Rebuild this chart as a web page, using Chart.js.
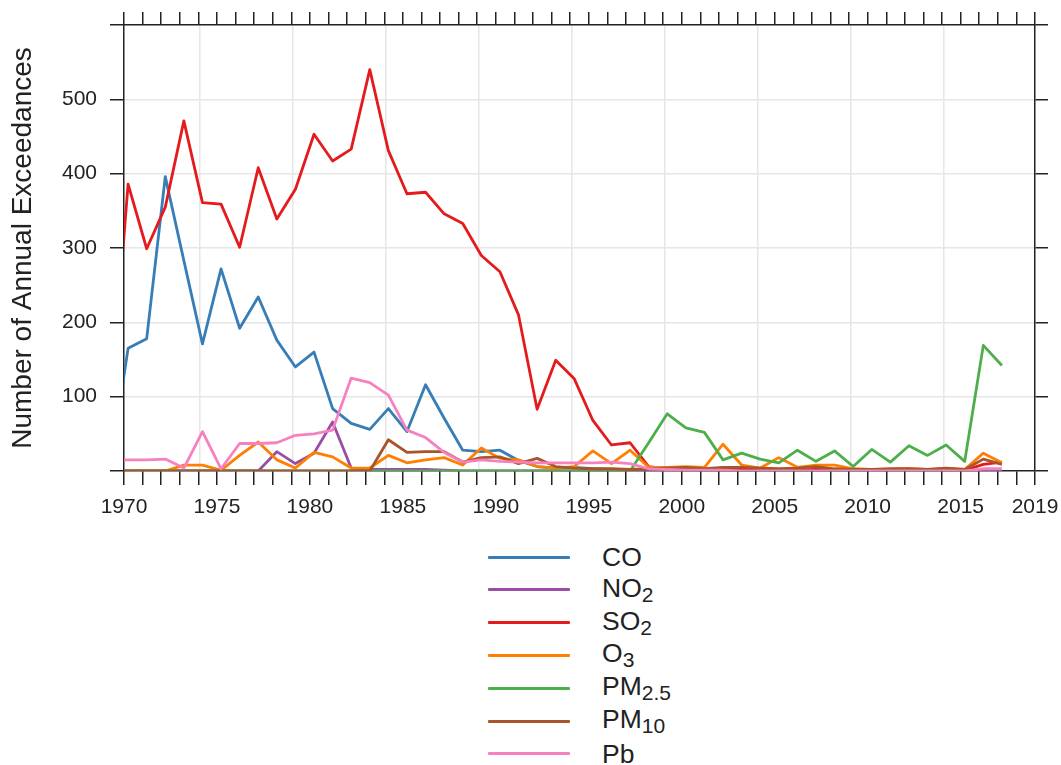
<!DOCTYPE html>
<html>
<head>
<meta charset="utf-8">
<script src="https://cdn.jsdelivr.net/npm/chart.js@4.4.1/dist/chart.umd.min.js"></script>
<style>
  html, body { margin: 0; padding: 0; background: #fff; }
  #wrap { position: relative; width: 1061px; height: 765px; overflow: hidden; }
  #chart { position: absolute; left: 0; top: 0; }
  .lg-row { position: absolute; left: 0; height: 34px; display: flex; align-items: center;
            font-family: "Liberation Sans", Arial, sans-serif; font-size: 26.5px; line-height: 1; color: #222; }
  .lg-line { width: 82px; height: 3px; margin-left: 488px; border-radius: 1px; }
  .lg-text { margin-left: 32px; white-space: nowrap; }
  .lg-text sub { font-size: 21px; vertical-align: -5px; line-height: 1; }
</style>
</head>
<body>
<div id="wrap">
  <canvas id="chart" width="1061" height="530"></canvas>
  <div id="legend"></div>
</div>
<script>
// =========================
// DATA
// =========================

const years = [
  1969, 1970, 1971, 1972, 1973, 1974, 1975, 1976, 1977, 1978,
  1979, 1980, 1981, 1982, 1983, 1984, 1985, 1986, 1987, 1988,
  1989, 1990, 1991, 1992, 1993, 1994, 1995, 1996, 1997, 1998,
  1999, 2000, 2001, 2002, 2003, 2004, 2005, 2006, 2007, 2008,
  2009, 2010, 2011, 2012, 2013, 2014, 2015, 2016, 2017
];

const coValues = [
  0, 165, 178, 396, 283, 171, 272, 192, 234, 176,
  140, 160, 84, 64, 56, 84, 53, 116, 71, 28,
  26, 28, 14, 6, 4, 5, 3, 2, 1, 0,
  0, 0, 0, 0, 0, 0, 0, 0, 0, 0,
  0, 0, 0, 0, 0, 0, 0, 0, 0
];

const no2Values = [
  0, 0, 0, 0, 0, 0, 0, 0, 0, 26,
  10, 24, 66, 4, 2, 2, 2, 2, 1, 0,
  0, 0, 0, 0, 0, 0, 0, 0, 0, 0,
  0, 0, 0, 0, 0, 0, 0, 0, 0, 0,
  0, 0, 0, 0, 0, 0, 0, 1, 1
];

const so2Values = [
  70, 386, 299, 355, 471, 361, 359, 301, 408, 339,
  379, 453, 417, 433, 540, 431, 373, 375, 346, 333,
  290, 268, 210, 83, 149, 124, 68, 35, 38, 6,
  3, 3, 2, 4, 3, 2, 1, 1, 2, 1,
  0, 0, 1, 2, 1, 2, 1, 9, 12
];

const o3Values = [
  0, 0, 0, 0, 8, 8, 1, 21, 39, 15,
  4, 25, 19, 4, 4, 21, 11, 15, 18, 8,
  31, 17, 15, 6, 4, 6, 27, 10, 28, 5,
  5, 6, 5, 36, 8, 4, 18, 5, 8, 8,
  3, 2, 2, 3, 2, 3, 2, 24, 11
];

const pm25Values = [
  0, 0, 0, 0, 0, 0, 0, 0, 0, 0,
  0, 0, 0, 0, 0, 0, 0, 0, 0, 0,
  0, 0, 0, 0, 0, 0, 0, 0, 0, 38,
  77, 58, 52, 15, 24, 16, 11, 28, 13, 27,
  6, 29, 12, 34, 21, 35, 13, 169, 142
];

const pm10Values = [
  0, 0, 0, 0, 0, 0, 0, 0, 0, 0,
  0, 0, 0, 0, 0, 42, 25, 26, 26, 12,
  18, 19, 10, 17, 6, 4, 3, 3, 2, 3,
  4, 5, 3, 5, 5, 4, 3, 4, 6, 3,
  2, 2, 3, 3, 2, 4, 2, 16, 9
];

const pbValues = [
  15, 15, 15, 16, 4, 53, 3, 37, 37, 38,
  48, 50, 55, 125, 119, 102, 55, 45, 25, 12,
  15, 13, 12, 11, 11, 11, 11, 12, 10, 3,
  2, 1, 1, 1, 0, 0, 0, 0, 0, 0,
  0, 0, 0, 0, 0, 0, 0, 3, 3
];

const seriesNames = ["CO", "NO2", "SO2", "O3", "PM2.5", "PM10", "Pb"];
const legendMain = ["CO", "NO", "SO", "O", "PM", "PM", "Pb"];
const legendSub = ["", "2", "2", "3", "2.5", "10", ""];
const seriesValues = [coValues, no2Values, so2Values, o3Values, pm25Values, pm10Values, pbValues];
const seriesColors = ["#377EB8", "#984EA3", "#E41A1C", "#FF7F00", "#4DAF4A", "#A65628", "#F781BF"];

// axis ticks
const xMin = 1970;
const xMax = 2019;
const xLabelYears = [1970, 1975, 1980, 1985, 1990, 1995, 2000, 2005, 2010, 2015, 2019];
const xGridYears = [1974.1, 1979.1, 1984.1, 1989.1, 1994.1, 1999.1, 2004.1, 2009.1, 2014.1];
const yMin = 0;
const yMax = 600;
const yLabelValues = [100, 200, 300, 400, 500];

// points sit a little past the year mark in the original
const YEAR_OFFSET = 0.22;

// =========================
// STYLE
// =========================

const FONT = "'Liberation Sans', Arial, sans-serif";
const INK = "#222";
const GRID = "#e6e6e6";

// =========================
// CHART
// =========================

// pin the axis boxes so the plot area lands where the original has it
function fixSize(w, h) {
  return (scale) => {
    if (w !== null) scale.width = w;
    if (h !== null) scale.height = h;
    scale.paddingLeft = 0;
    scale.paddingRight = 0;
    scale.paddingTop = 0;
    scale.paddingBottom = 0;
  };
}

const datasets = seriesNames.map((name, i) => ({
  label: name,
  data: years.map((yr, j) => ({ x: yr + YEAR_OFFSET, y: seriesValues[i][j] })),
  borderColor: seriesColors[i],
  backgroundColor: seriesColors[i],
  borderWidth: 2.8,
  borderJoinStyle: "round",
  pointRadius: 0,
  tension: 0,
  fill: false,
  order: seriesNames.length - i,
  xAxisID: "x",
  yAxisID: "y",
}));

const ctx = document.getElementById("chart").getContext("2d");

new Chart(ctx, {
  type: "line",
  data: { datasets },
  options: {
    responsive: false,
    animation: false,
    layout: { padding: 0, autoPadding: false },
    plugins: { legend: { display: false }, tooltip: { enabled: false } },
    scales: {
      x: {
        type: "linear",
        position: "bottom",
        min: xMin,
        max: xMax,
        afterFit: fixSize(null, 59),
        ticks: {
          stepSize: 1,
          autoSkip: false,
          maxRotation: 0,
          padding: 10,
          color: INK,
          font: { family: FONT, size: 21 },
          callback: (v) => (xLabelYears.includes(v) ? String(v) : ""),
        },
        grid: { drawOnChartArea: false, tickLength: 14, tickColor: INK, lineWidth: 1.5 },
        border: { display: true, color: INK, width: 1.5 },
      },
      xg: {
        type: "linear",
        position: "bottom",
        min: xMin,
        max: xMax,
        afterFit: fixSize(null, 0),
        afterBuildTicks: (scale) => {
          scale.ticks = xGridYears.map((v) => ({ value: v }));
        },
        ticks: { display: false },
        grid: { drawTicks: false, color: GRID, lineWidth: 1.5 },
        border: { display: false },
      },
      x2: {
        type: "linear",
        position: "top",
        min: xMin,
        max: xMax,
        afterFit: fixSize(null, 25),
        ticks: { display: false, stepSize: 1, autoSkip: false },
        grid: { drawOnChartArea: false, tickLength: 13, tickColor: INK, lineWidth: 1.5 },
        border: { display: true, color: INK, width: 1.5 },
      },
      y: {
        type: "linear",
        position: "left",
        min: yMin,
        max: yMax,
        afterFit: fixSize(124, null),
        ticks: {
          stepSize: 100,
          padding: 13,
          color: INK,
          font: { family: FONT, size: 21 },
          callback: (v) => (yLabelValues.includes(v) ? String(v) : ""),
        },
        grid: {
          tickLength: 14,
          tickColor: INK,
          lineWidth: 1.5,
          color: (c) => (c.tick && (c.tick.value === yMin || c.tick.value === yMax) ? "rgba(0,0,0,0)" : GRID),
        },
        border: { display: true, color: INK, width: 1.5 },
        title: {
          display: true,
          text: "Number of Annual Exceedances",
          color: INK,
          font: { family: FONT, size: 28 },
          padding: { top: 6, bottom: 0 },
        },
      },
      y2: {
        type: "linear",
        position: "right",
        min: yMin,
        max: yMax,
        afterFit: fixSize(26, null),
        ticks: { display: false, stepSize: 100 },
        grid: { drawOnChartArea: false, tickLength: 13, tickColor: INK, lineWidth: 1.5 },
        border: { display: true, color: INK, width: 1.5 },
      },
    },
  },
});

// =========================
// LEGEND (html, for subscripts)
// =========================

const legendEl = document.getElementById("legend");
const LEGEND_TOP = 557;
const LEGEND_STEP = 32.8;

seriesNames.forEach((name, i) => {
  const row = document.createElement("div");
  row.className = "lg-row";
  row.style.top = (LEGEND_TOP + LEGEND_STEP * i - 17) + "px";
  const sub = legendSub[i] ? `<sub>${legendSub[i]}</sub>` : "";
  row.innerHTML = `
    <div class="lg-line" style="background:${seriesColors[i]}"></div>
    <span class="lg-text">${legendMain[i]}${sub}</span>
  `;
  legendEl.appendChild(row);
});
</script>
</body>
</html>
